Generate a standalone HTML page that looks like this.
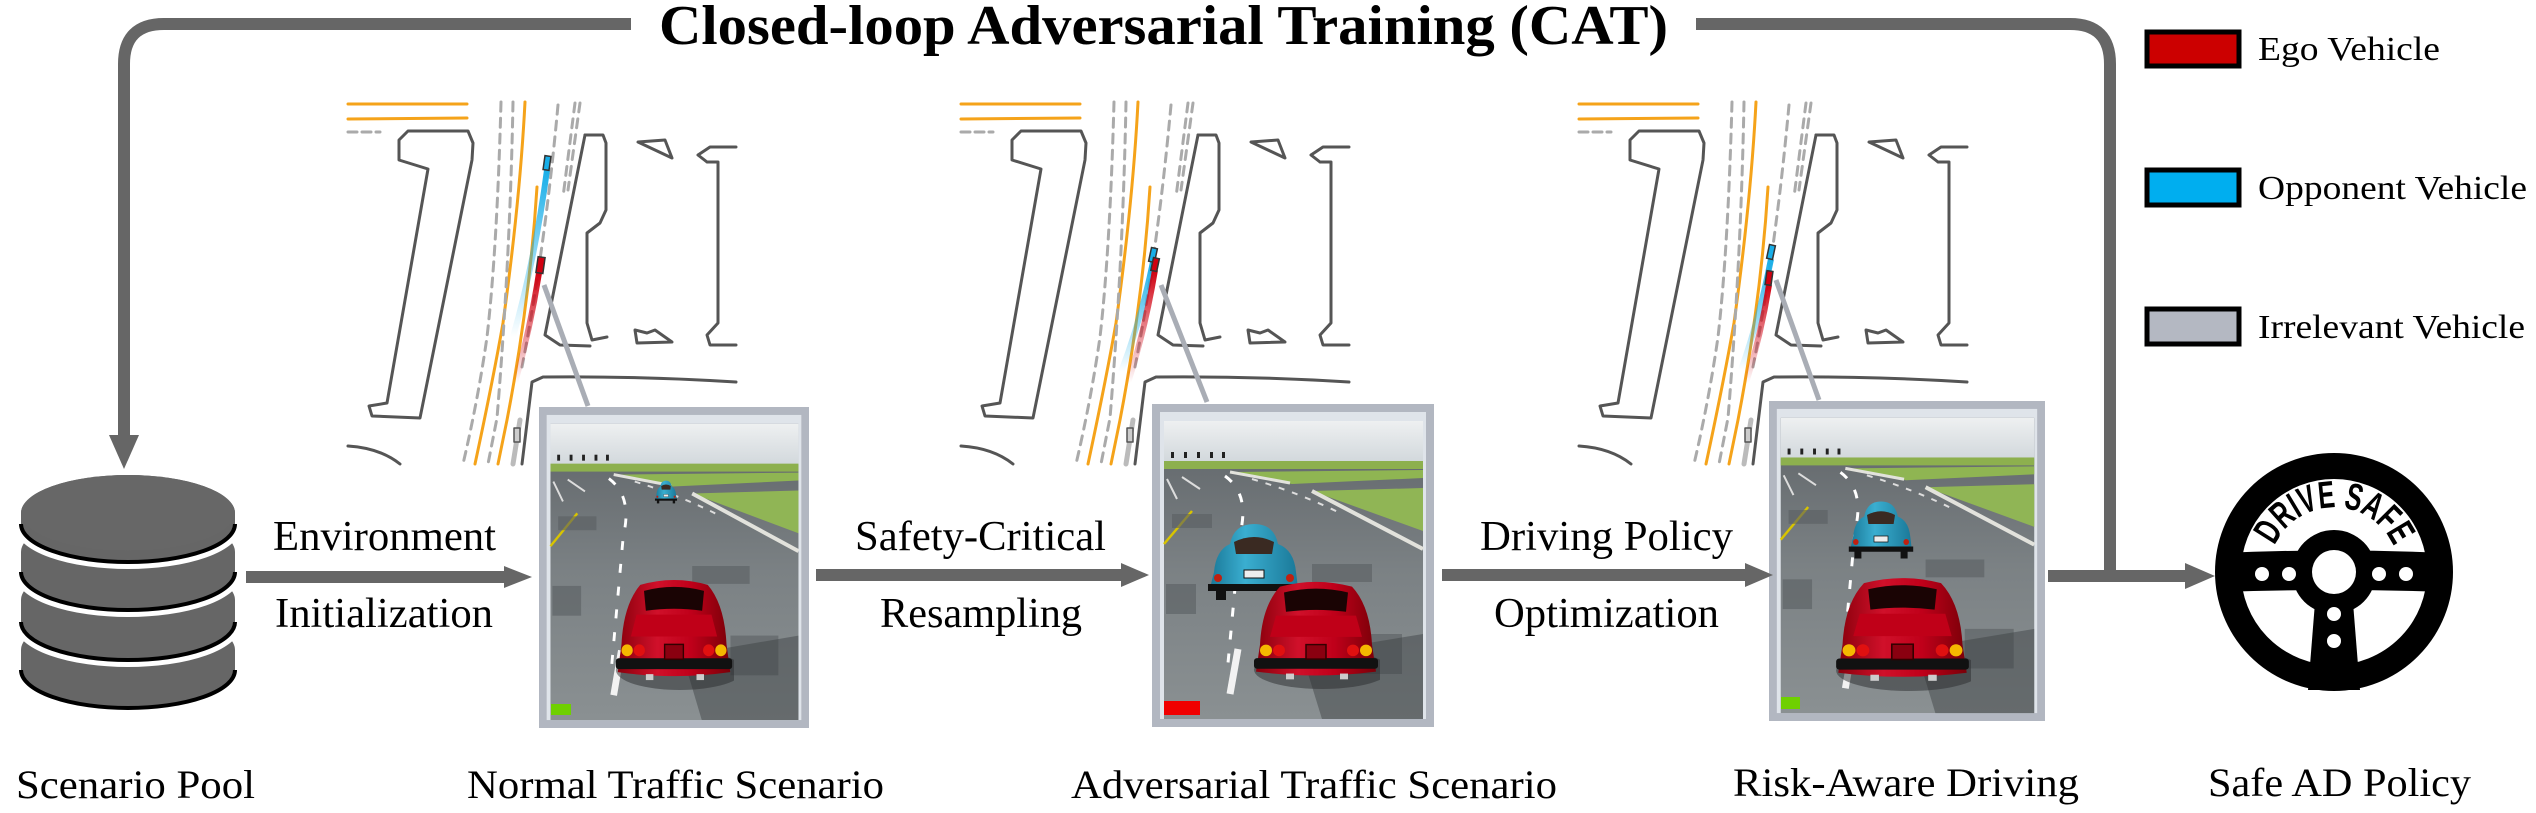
<!DOCTYPE html>
<html><head><meta charset="utf-8"><style>
html,body{margin:0;padding:0;background:#fff;}
svg{display:block;}
svg text{font-family:"Liberation Serif","Times New Roman",serif;}
svg text.ds{font-family:"Liberation Sans Narrow","Liberation Sans",sans-serif;}
</style></head><body>
<svg width="2536" height="813" viewBox="0 0 2536 813" xmlns="http://www.w3.org/2000/svg" font-family="'Liberation Serif', serif">
<defs>
  <linearGradient id="sky" x1="0" y1="0" x2="0" y2="1">
    <stop offset="0" stop-color="#eef0f1"/><stop offset="1" stop-color="#d2d8dc"/>
  </linearGradient>
  <linearGradient id="road" x1="0" y1="0" x2="0" y2="1">
    <stop offset="0" stop-color="#5f6468"/><stop offset="0.5" stop-color="#7b8184"/><stop offset="1" stop-color="#8a9092"/>
  </linearGradient>
  <linearGradient id="btrail" x1="0" y1="0" x2="0" y2="1">
    <stop offset="0" stop-color="#18aee8"/><stop offset="1" stop-color="#18aee8" stop-opacity="0"/>
  </linearGradient>
  <linearGradient id="rtrail" x1="0" y1="0" x2="0" y2="1">
    <stop offset="0" stop-color="#d00010"/><stop offset="1" stop-color="#d00010" stop-opacity="0"/>
  </linearGradient>
  <linearGradient id="redbody" x1="0" y1="0" x2="1" y2="0">
    <stop offset="0" stop-color="#8a000c"/><stop offset="0.35" stop-color="#d0102a"/><stop offset="0.65" stop-color="#c0001a"/><stop offset="1" stop-color="#7a0008"/>
  </linearGradient>
  <linearGradient id="bluebody" x1="0" y1="0" x2="1" y2="0">
    <stop offset="0" stop-color="#1a7898"/><stop offset="0.4" stop-color="#3aaed0"/><stop offset="1" stop-color="#1a7898"/>
  </linearGradient>

  <g id="mapbase" fill="none" stroke-linejoin="round" stroke-linecap="round">
    <path d="M348,104 L467,104 M348,119 L467,118" stroke="#f5a31a" stroke-width="3"/>
    <path d="M348,132 L380,132" stroke="#aaa" stroke-width="3" stroke-dasharray="9,5"/>
    <path d="M408,131 L468,131 L473,143 L472,160 L420,418 L372,416 L369,406 L387,403 L428,169 L399,160 L399,140 Z" stroke="#555" stroke-width="3"/>
    <path d="M525,102 Q520,200 503,323 Q493,380 475,464" stroke="#f5a31a" stroke-width="3"/>
    <path d="M537,187 Q530,300 507,420 L498,464" stroke="#f5a31a" stroke-width="3"/>
    <path d="M501,102 Q497,250 487,337 Q478,400 463,464" stroke="#aaa" stroke-width="3" stroke-dasharray="9,7"/>
    <path d="M513,102 Q510,260 497,418 L488,464" stroke="#aaa" stroke-width="3" stroke-dasharray="9,7"/>
    <path d="M558,105 Q552,170 545,223 Q535,300 522,367" stroke="#aaa" stroke-width="3" stroke-dasharray="9,7"/>
    <path d="M575,103 L563,197 M580,103 L568,190" stroke="#aaa" stroke-width="3" stroke-dasharray="9,7"/>
    <path d="M585,135 L603,135 L606,143 L606,210 L600,223 L587,233 L587,323 L592,340 L607,337" stroke="#555" stroke-width="3"/>
    <path d="M585,135 L545,335 L560,345 L590,346" stroke="#555" stroke-width="3"/>
    <path d="M638,142 L665,140 L672,158 Z" stroke="#555" stroke-width="3"/>
    <path d="M698,155 L710,147 L736,147 M707,162 L718,162 L718,323 L707,335 L710,345 L736,345 M698,155 L707,162" stroke="#555" stroke-width="3"/>
    <path d="M635,330 L637,343 L672,342 L655,330 L647,333 Z" stroke="#555" stroke-width="3"/>
    <path d="M522,464 L532,382 L543,377 Q640,376 736,382" stroke="#555" stroke-width="3"/>
    <path d="M348,446 Q380,448 400,464" stroke="#555" stroke-width="3"/>
    <path d="M513,464 L520,420" stroke="#bbb" stroke-width="5"/>
    <rect x="514" y="428" width="6" height="14" fill="#ccc" stroke="#555" stroke-width="1.5"/>
  </g>

  <symbol id="scene" viewBox="0 0 282 323" preserveAspectRatio="none">
    <rect width="282" height="323" fill="#b2b7c1"/>
    <rect x="8" y="8" width="266" height="307" fill="#dfe4ea"/>
    <rect x="12" y="17" width="259" height="298" fill="url(#road)"/>
    <rect x="12" y="17" width="259" height="41" fill="url(#sky)"/>
    <rect x="12" y="57" width="259" height="8" fill="#8db04e"/>
    <polygon points="80,68 271,66 271,74 140,80" fill="#8fb552"/>
    <polygon points="160,87 271,84 271,127" fill="#90b555"/>
    <path d="M160,87 L271,145" stroke="#e2e2dc" stroke-width="4"/>
    <path d="M78,68 L138,79" stroke="#e2e2dc" stroke-width="3"/>
    <path d="M73,72 Q98,90 88,130 L75,270" stroke="#fff" stroke-width="3" fill="none" stroke-dasharray="9,14"/>
    <path d="M100,75 Q150,90 190,110" stroke="#ddd" stroke-width="2" fill="none" stroke-dasharray="6,8"/>
    <path d="M12,140 L40,107" stroke="#d8c400" stroke-width="2.5"/>
    <path d="M15,75 L25,95 M30,73 L48,85" stroke="#ddd" stroke-width="2"/>
    <path d="M86,245 L78,290" stroke="#f2f2f2" stroke-width="7"/>
    <g fill="#222"><rect x="19" y="48" width="3" height="6"/><rect x="32" y="48" width="3" height="6"/><rect x="45" y="48" width="3" height="6"/><rect x="58" y="48" width="3" height="6"/><rect x="70" y="48" width="3" height="6"/></g>
    <g fill="#5a5f62" opacity="0.6"><rect x="20" y="110" width="40" height="14"/><rect x="160" y="160" width="60" height="18"/><rect x="14" y="180" width="30" height="30"/><rect x="200" y="230" width="50" height="40"/></g>
    <polygon points="150,250 271,230 271,315 170,315" fill="#3a3e40" opacity="0.45"/>
  </symbol>

  <symbol id="redcar" viewBox="0 0 128 116" preserveAspectRatio="none">
    <ellipse cx="70" cy="96" rx="68" ry="20" fill="#2a2c2e" opacity="0.5"/>
    <path d="M8,70 Q10,30 28,10 Q64,0 100,10 Q118,30 120,70 L124,98 Q64,106 4,98 Z" fill="url(#redbody)"/>
    <path d="M32,16 Q64,8 96,16 L94,36 Q64,32 34,36 Z" fill="#1a0404"/>
    <path d="M24,40 L104,40 L110,62 L18,62 Z" fill="#c00018"/>
    <rect x="2" y="84" width="124" height="11" rx="3" fill="#111"/>
    <circle cx="14" cy="76" r="6" fill="#f5b800"/><circle cx="27" cy="76" r="6" fill="#e01010"/>
    <circle cx="101" cy="76" r="6" fill="#e01010"/><circle cx="114" cy="76" r="6" fill="#f5b800"/>
    <rect x="54" y="70" width="20" height="15" fill="#8a0010" stroke="#300" stroke-width="1.5"/>
    <rect x="34" y="100" width="8" height="6" fill="#ccc"/><rect x="88" y="100" width="8" height="6" fill="#ccc"/>
  </symbol>

  <symbol id="bluecar" viewBox="0 0 100 80" preserveAspectRatio="none">
    <path d="M10,50 Q12,28 26,22 Q30,2 50,2 Q70,2 74,22 Q90,28 92,50 L94,66 L6,66 Z" fill="url(#bluebody)"/>
    <path d="M30,20 Q50,10 70,20 L68,32 L32,32 Z" fill="#3a2a22"/>
    <rect x="4" y="62" width="92" height="7" fill="#111"/>
    <rect x="40" y="48" width="20" height="8" fill="#eee" stroke="#111"/>
    <circle cx="14" cy="56" r="4" fill="#c02010"/><circle cx="86" cy="56" r="4" fill="#c02010"/>
    <rect x="12" y="68" width="10" height="10" fill="#111"/><rect x="78" y="68" width="10" height="10" fill="#111"/>
  </symbol>
</defs>

<path d="M631,24 L164,24 Q124,24 124,64 L124,436" fill="none" stroke="#666" stroke-width="12"/>
<polygon points="109,435 139,435 124,469" fill="#666"/>
<path d="M1696,24 L2070,24 Q2110,24 2110,64 L2110,575" fill="none" stroke="#666" stroke-width="12"/>
<text x="659" y="44" font-size="56" font-weight="bold" textLength="1009" lengthAdjust="spacingAndGlyphs">Closed-loop Adversarial Training (CAT)</text>

<use href="#mapbase"/>
<use href="#mapbase" transform="translate(613,0)"/>
<use href="#mapbase" transform="translate(1231,0)"/>

<g>
  <path d="M547,170 Q535,260 513,337" stroke="url(#btrail)" stroke-width="6" fill="none"/>
  <path d="M539,273 Q530,330 515,383" stroke="url(#rtrail)" stroke-width="6" fill="none"/>
  <rect x="544" y="156" width="6" height="14" fill="#18aee8" stroke="#333" stroke-width="1.5" transform="rotate(8 547 163)"/>
  <rect x="537" y="257" width="7" height="16" fill="#d00010" stroke="#333" stroke-width="1.5" transform="rotate(8 540 265)"/>
  <line x1="544" y1="285" x2="588" y2="406" stroke="#a9adb5" stroke-width="5"/>
</g>
<g transform="translate(613,0)">
  <path d="M540,262 Q528,320 508,372" stroke="url(#btrail)" stroke-width="6" fill="none"/>
  <path d="M542,270 Q532,330 515,383" stroke="url(#rtrail)" stroke-width="6" fill="none"/>
  <rect x="537" y="248" width="6" height="14" fill="#18aee8" stroke="#333" stroke-width="1.5" transform="rotate(12 540 255)"/>
  <rect x="539" y="258" width="6" height="13" fill="#d00010" stroke="#333" stroke-width="1.5" transform="rotate(12 542 265)"/>
  <line x1="548" y1="285" x2="594" y2="402" stroke="#a9adb5" stroke-width="5"/>
</g>
<g transform="translate(1231,0)">
  <path d="M540,259 Q528,320 510,370" stroke="url(#btrail)" stroke-width="6" fill="none"/>
  <path d="M538,285 Q530,335 515,383" stroke="url(#rtrail)" stroke-width="6" fill="none"/>
  <rect x="537" y="245" width="6" height="14" fill="#18aee8" stroke="#333" stroke-width="1.5" transform="rotate(12 540 252)"/>
  <rect x="535" y="271" width="6" height="14" fill="#d00010" stroke="#333" stroke-width="1.5" transform="rotate(8 538 278)"/>
  <line x1="545" y1="280" x2="588" y2="400" stroke="#a9adb5" stroke-width="5"/>
</g>

<use href="#scene" x="539" y="407" width="270" height="321"/>
<use href="#bluecar" x="654" y="480" width="24" height="24"/>
<use href="#redcar" x="614" y="575" width="120" height="115"/>
<rect x="551" y="704" width="20" height="11" fill="#6fd000"/>

<use href="#scene" x="1152" y="404" width="282" height="323"/>
<use href="#bluecar" x="1204" y="522" width="100" height="80"/>
<use href="#redcar" x="1252" y="577" width="128" height="112"/>
<rect x="1164" y="701" width="36" height="14" fill="#f00000"/>

<use href="#scene" x="1769" y="401" width="276" height="320"/>
<use href="#bluecar" x="1846" y="500" width="70" height="60"/>
<use href="#redcar" x="1834" y="573" width="137" height="118"/>
<rect x="1781" y="697" width="19" height="12" fill="#6fd000"/>

<g>
  <path d="M21,650 A107,38 0 0 1 235,650 L235,670 A107,38 0 0 1 21,670 Z" fill="#666"/>
  <path d="M21,670 A107,38 0 0 0 235,670" fill="none" stroke="#000" stroke-width="4"/>
  <path d="M21,622 A107,38 0 0 0 235,622" fill="none" stroke="#fff" stroke-width="14"/>
  <path d="M21,600 A107,38 0 0 1 235,600 L235,622 A107,38 0 0 1 21,622 Z" fill="#666"/>
  <path d="M21,622 A107,38 0 0 0 235,622" fill="none" stroke="#000" stroke-width="4"/>
  <path d="M21,572 A107,38 0 0 0 235,572" fill="none" stroke="#fff" stroke-width="14"/>
  <path d="M21,552 A107,38 0 0 1 235,552 L235,572 A107,38 0 0 1 21,572 Z" fill="#666"/>
  <path d="M21,572 A107,38 0 0 0 235,572" fill="none" stroke="#000" stroke-width="4"/>
  <path d="M21,524 A107,38 0 0 0 235,524" fill="none" stroke="#fff" stroke-width="14"/>
  <path d="M21,513 A107,38 0 0 1 235,513 L235,524 A107,38 0 0 1 21,524 Z" fill="#666"/>
  <path d="M21,524 A107,38 0 0 0 235,524" fill="none" stroke="#000" stroke-width="4"/>
  <ellipse cx="128" cy="513" rx="107" ry="38" fill="#676767"/>
</g>

<g fill="#666">
  <rect x="246" y="571" width="260" height="12"/><polygon points="504,566 532,577 504,588"/>
  <rect x="816" y="569" width="307" height="12"/><polygon points="1121,563 1149,575 1121,587"/>
  <rect x="1442" y="569" width="305" height="12"/><polygon points="1745,563 1773,575 1745,587"/>
  <rect x="2048" y="570" width="140" height="12"/><polygon points="2185,563 2215,576 2185,589"/>
</g>

<g font-size="42" fill="#000">
  <text x="273" y="550" textLength="223" lengthAdjust="spacingAndGlyphs">Environment</text>
  <text x="275" y="627" textLength="218" lengthAdjust="spacingAndGlyphs">Initialization</text>
  <text x="855" y="550" textLength="251" lengthAdjust="spacingAndGlyphs">Safety-Critical</text>
  <text x="880" y="627" textLength="202" lengthAdjust="spacingAndGlyphs">Resampling</text>
  <text x="1480" y="550" textLength="253" lengthAdjust="spacingAndGlyphs">Driving Policy</text>
  <text x="1494" y="627" textLength="225" lengthAdjust="spacingAndGlyphs">Optimization</text>
</g>

<g font-size="40" fill="#000">
  <text x="16" y="798" textLength="239" lengthAdjust="spacingAndGlyphs">Scenario Pool</text>
  <text x="467" y="798" textLength="417" lengthAdjust="spacingAndGlyphs">Normal Traffic Scenario</text>
  <text x="1071" y="798" textLength="486" lengthAdjust="spacingAndGlyphs">Adversarial Traffic Scenario</text>
  <text x="1733" y="796" textLength="346" lengthAdjust="spacingAndGlyphs">Risk-Aware Driving</text>
  <text x="2208" y="796" textLength="263" lengthAdjust="spacingAndGlyphs">Safe AD Policy</text>
</g>

<g stroke="#000" stroke-width="5">
  <rect x="2147" y="32" width="92" height="34" fill="#cc0000"/>
  <rect x="2147" y="170" width="92" height="35" fill="#00aeef"/>
  <rect x="2147" y="309" width="92" height="35" fill="#b4b8c2"/>
</g>
<g font-size="34" fill="#000">
  <text x="2258" y="60" textLength="182" lengthAdjust="spacingAndGlyphs">Ego Vehicle</text>
  <text x="2258" y="199" textLength="269" lengthAdjust="spacingAndGlyphs">Opponent Vehicle</text>
  <text x="2258" y="338" textLength="267" lengthAdjust="spacingAndGlyphs">Irrelevant Vehicle</text>
</g>

<g>
  <circle cx="2334" cy="572" r="106" fill="#fff" stroke="#000" stroke-width="26"/>
  <path d="M2220,553 Q2334,548 2448,553 L2448,592 Q2334,588 2220,592 Z" fill="#000"/>
  <polygon points="2316,590 2352,590 2360,690 2308,690" fill="#000"/>
  <circle cx="2334" cy="572" r="42" fill="#000"/>
  <circle cx="2334" cy="572" r="22" fill="#fff"/>
  <g fill="#fff">
    <circle cx="2262" cy="574" r="7"/><circle cx="2289" cy="574" r="7"/>
    <circle cx="2379" cy="574" r="7"/><circle cx="2406" cy="574" r="7"/>
    <circle cx="2334" cy="614" r="7"/><circle cx="2334" cy="641" r="7"/>
  </g>
  <path id="arc" d="M2270,561 A65,65 0 0 1 2398,561" fill="none"/>
  <text class="ds" font-size="38" font-weight="bold" fill="#000"><textPath href="#arc" startOffset="16" textLength="150" lengthAdjust="spacingAndGlyphs">DRIVE SAFE</textPath></text>
</g>
</svg>
</body></html>
